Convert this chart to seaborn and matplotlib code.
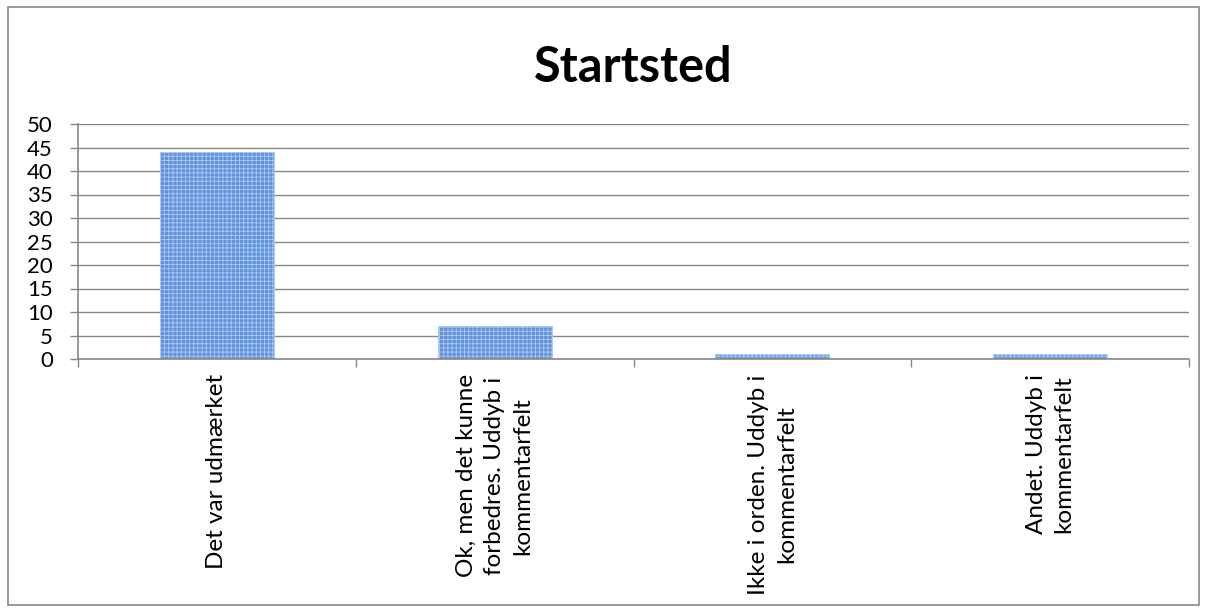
import matplotlib
matplotlib.use("Agg")
import matplotlib.pyplot as plt
import seaborn as sns
import pandas as pd
from matplotlib.patches import Rectangle

# data
categories = [
    "Det var udmærket",
    "Ok, men det kunne\nforbedres. Uddyb i\nkommentarfelt",
    "Ikke i orden. Uddyb i\nkommentarfelt",
    "Andet. Uddyb i\nkommentarfelt",
]
counts = [44, 7, 1, 1]
y_ticks = list(range(0, 51, 5))

GRID = "#878787"
BAR = "#5F92DC"
HATCH = "#AFC9EE"

sns.set_theme(style="white")
plt.rcParams["font.family"] = ["Lato", "DejaVu Sans"]
plt.rcParams["hatch.linewidth"] = 0.6

df = pd.DataFrame({"cat": categories, "n": counts})

fig = plt.figure(figsize=(12.07, 6.09), dpi=100)
ax = fig.add_axes([78 / 1207, 1 - 359 / 609, 1111 / 1207, 235 / 609])

sns.barplot(data=df, x="cat", y="n", ax=ax, color=BAR, width=0.41,
            saturation=1, edgecolor=HATCH, linewidth=0.8)
for p in ax.patches:
    p.set_hatch("++++")

ax.set_ylim(0, 50)
ax.set_xlim(-0.5, len(categories) - 0.5)
ax.set_yticks(y_ticks)
ax.set_yticklabels([str(v) for v in y_ticks])
ax.yaxis.grid(True, color=GRID, linewidth=1)
ax.set_axisbelow(True)
ax.set_xlabel("")
ax.set_ylabel("")

# category ticks sit on the boundaries, labels in the middle
ax.set_xticks([i - 0.5 for i in range(len(categories) + 1)], minor=False)
ax.set_xticklabels([])
ax.tick_params(axis="x", which="major", length=6, color=GRID, width=1, direction="out", bottom=True)
ax.tick_params(axis="y", length=6, color=GRID, width=1, direction="out", left=True,
               pad=12, labelsize=16, labelcolor="black")
ax.set_xticks(range(len(categories)), minor=True)
ax.set_xticklabels(categories, minor=True, rotation=90, fontsize=17.5, color="black",
                   ha="center", va="top", multialignment="center", linespacing=1.4)
ax.tick_params(axis="x", which="minor", length=0, pad=11)

for side in ["top", "right"]:
    ax.spines[side].set_visible(False)
for side in ["left", "bottom"]:
    ax.spines[side].set_color(GRID)
    ax.spines[side].set_linewidth(1.2)

fig.text(633 / 1207, 1 - 68 / 609, "Startsted", ha="center", va="center",
         fontsize=35, fontweight="bold", color="black")

fig.patches.append(Rectangle((8 / 1207, 4 / 609), 1191 / 1207, 598 / 609,
                             transform=fig.transFigure, fill=False,
                             edgecolor=GRID, linewidth=1.2))

fig.savefig("out.png", dpi=100)
